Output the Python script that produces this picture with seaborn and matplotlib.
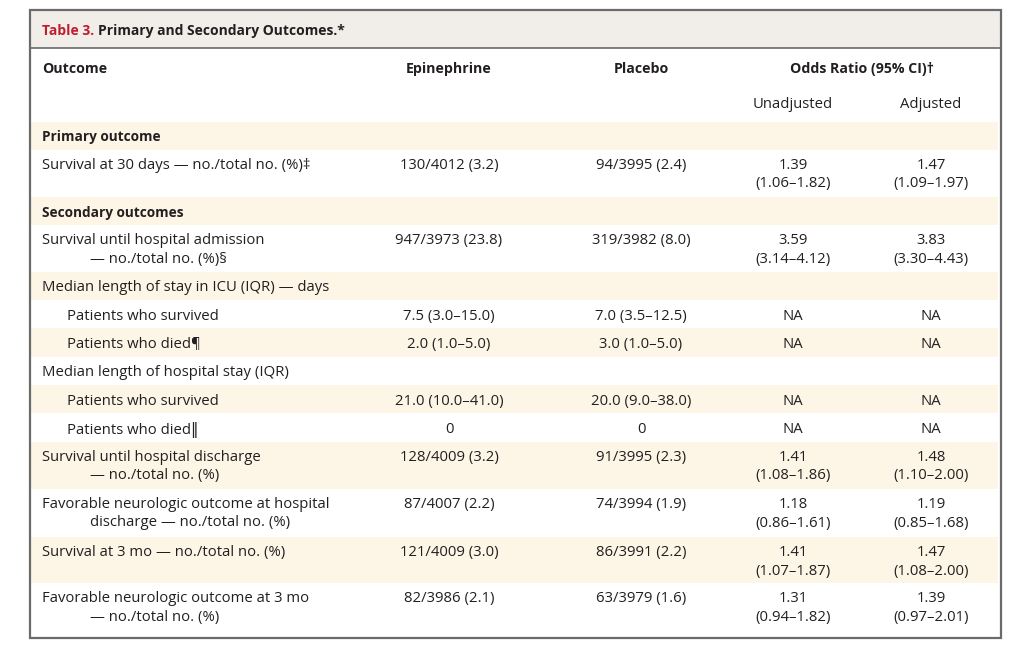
import matplotlib
matplotlib.use("Agg")
import matplotlib.pyplot as plt
from matplotlib.patches import Rectangle
import seaborn as sns

sns.set_theme(style="white")
plt.rcParams['font.family'] = ['Open Sans', 'DejaVu Sans']

# ---- data ----
title_prefix = "Table 3."
title_text = "Primary and Secondary Outcomes.*"
col_headers = ["Outcome", "Epinephrine", "Placebo", "Odds Ratio (95% CI)\u2020"]
sub_headers = ["Unadjusted", "Adjusted"]

# (label lines, kind) kind: 'section', 'main', 'sub', 'group'
outcome_labels = [
    (["Primary outcome"], "section"),
    (["Survival at 30 days \u2014 no./total no. (%)\u2021"], "main"),
    (["Secondary outcomes"], "section"),
    (["Survival until hospital admission", "\u2014 no./total no. (%)\u00a7"], "main"),
    (["Median length of stay in ICU (IQR) \u2014 days"], "group"),
    (["Patients who survived"], "sub"),
    (["Patients who died\u00b6"], "sub"),
    (["Median length of hospital stay (IQR)"], "group"),
    (["Patients who survived"], "sub"),
    (["Patients who died\u2016"], "sub"),
    (["Survival until hospital discharge", "\u2014 no./total no. (%)"], "main"),
    (["Favorable neurologic outcome at hospital", "discharge \u2014 no./total no. (%)"], "main"),
    (["Survival at 3 mo \u2014 no./total no. (%)"], "main"),
    (["Favorable neurologic outcome at 3 mo", "\u2014 no./total no. (%)"], "main"),
]
epinephrine = ["", "130/4012 (3.2)", "", "947/3973 (23.8)", "", "7.5 (3.0\u201315.0)",
               "2.0 (1.0\u20135.0)", "", "21.0 (10.0\u201341.0)", "0", "128/4009 (3.2)",
               "87/4007 (2.2)", "121/4009 (3.0)", "82/3986 (2.1)"]
placebo = ["", "94/3995 (2.4)", "", "319/3982 (8.0)", "", "7.0 (3.5\u201312.5)",
           "3.0 (1.0\u20135.0)", "", "20.0 (9.0\u201338.0)", "0", "91/3995 (2.3)",
           "74/3994 (1.9)", "86/3991 (2.2)", "63/3979 (1.6)"]
or_unadjusted = ["", "1.39\n(1.06\u20131.82)", "", "3.59\n(3.14\u20134.12)", "", "NA", "NA", "",
                 "NA", "NA", "1.41\n(1.08\u20131.86)", "1.18\n(0.86\u20131.61)",
                 "1.41\n(1.07\u20131.87)", "1.31\n(0.94\u20131.82)"]
or_adjusted = ["", "1.47\n(1.09\u20131.97)", "", "3.83\n(3.30\u20134.43)", "", "NA", "NA", "",
               "NA", "NA", "1.48\n(1.10\u20132.00)", "1.19\n(0.85\u20131.68)",
               "1.47\n(1.08\u20132.00)", "1.39\n(0.97\u20132.01)"]

# ---- layout ----
row_bounds = [122, 150, 197, 225, 272, 300, 328, 357, 385, 413, 442, 489, 537, 583, 638]
shade = "#FDF5E6"
title_bg = "#F1EEEA"
border = "#6B6B6B"
txt = "#231F20"
red = "#BF1E2E"
fs = 10.7
fs_head = 10.2
fs_sec = 9.8
LH = 18.5

fig = plt.figure(figsize=(10.24, 6.47), dpi=100)
ax = fig.add_axes([0, 0, 1, 1])
ax.set_xlim(0, 1024)
ax.set_ylim(647, 0)
ax.axis("off")

L, R, T, B = 30, 1001, 10, 638
ax.add_patch(Rectangle((L, T), R - L, 38, facecolor=title_bg, edgecolor="none", zorder=0))
for i in range(len(outcome_labels)):
    if i % 2 == 0:
        y0, y1 = row_bounds[i], row_bounds[i + 1]
        ax.add_patch(Rectangle((L, y0), R - L - 3, y1 - y0, facecolor=shade,
                               edgecolor="none", zorder=0))
ax.add_patch(Rectangle((L, T), R - L, B - T, facecolor="none", edgecolor=border, lw=1.6, zorder=3))
ax.plot([L, R], [48, 48], color=border, lw=1.2, zorder=3)

# title
t1 = ax.text(42, 31, title_prefix + " ", color=red, fontsize=10.0, fontweight="bold",
             va="center", ha="left")
fig.canvas.draw()
bb = t1.get_window_extent()
inv = ax.transData.inverted()
xd = inv.transform((bb.x1, 0))[0]
ax.text(xd, 31, title_text, color=txt, fontsize=10.0, fontweight="bold", va="center", ha="left")

# headers
col_x = [42, 449, 641, 862]
ax.text(col_x[0], 69, col_headers[0], fontsize=fs_head, fontweight="bold", color=txt, va="center", ha="left")
for x, h in zip(col_x[1:], col_headers[1:]):
    ax.text(x, 69, h, fontsize=fs_head, fontweight="bold", color=txt, va="center", ha="center")
ax.text(793, 105, sub_headers[0], fontsize=fs, color=txt, va="center", ha="center")
ax.text(931, 105, sub_headers[1], fontsize=fs, color=txt, va="center", ha="center")

# rows
for i, (lines, kind) in enumerate(outcome_labels):
    y0 = row_bounds[i]
    yc = y0 + 15.5
    if kind == "section":
        ax.text(42, yc, lines[0], fontsize=fs_sec, fontweight="bold", color=txt, va="center")
    elif kind == "sub":
        ax.text(67, yc + 1, lines[0], fontsize=fs, color=txt, va="center")
    else:
        ax.text(42, yc, lines[0], fontsize=fs, color=txt, va="center")
        if len(lines) > 1:
            ax.text(90, yc + LH, lines[1], fontsize=fs, color=txt, va="center")
    ty = yc + (1 if kind == "sub" else 0)
    for x, vals in zip([449, 641], [epinephrine, placebo]):
        if vals[i]:
            ax.text(x, ty, vals[i], fontsize=fs, color=txt, va="center", ha="center")
    for x, vals in zip([793, 931], [or_unadjusted, or_adjusted]):
        if vals[i]:
            parts = vals[i].split("\n")
            for k, p in enumerate(parts):
                ax.text(x, ty + k * LH, p, fontsize=fs, color=txt, va="center", ha="center")

fig.savefig("out.png", dpi=100, facecolor="white")
